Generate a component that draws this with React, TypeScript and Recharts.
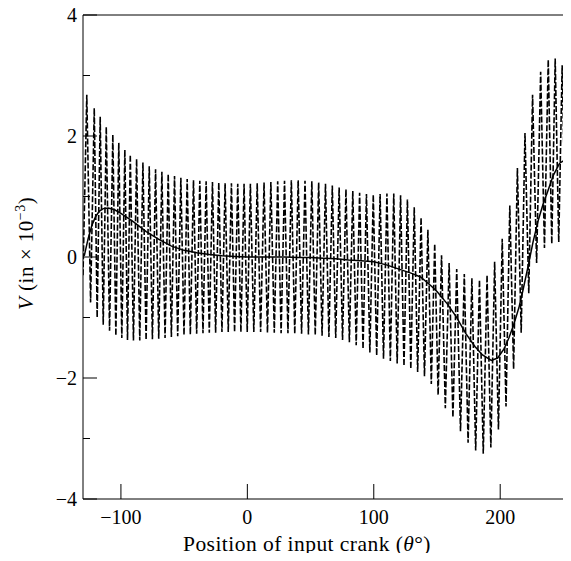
import { LineChart, Line, XAxis, YAxis, ReferenceLine } from 'recharts';

const xTicks = [-100, 0, 100, 200];
const yTicks = [-4, -3, -2, -1, 0, 1, 2, 3, 4];

// smooth (solid) response
const smoothAngle = [
    -129, -126, -123, -120, -117, -114, -110, -105, -100, -95,
    -90, -80, -70, -60, -50, -40, -30, -20, -10, 0,
    10, 20, 30, 40, 50, 60, 70, 80, 90, 100,
    110, 120, 130, 137, 145, 150, 158, 165, 173, 180,
    186, 193, 198, 203, 207, 211, 215, 218, 222, 226,
    230, 234, 237, 242, 247, 251, 256,
];
const smoothV = [
    0.02, 0.3, 0.52, 0.67, 0.76, 0.8, 0.81, 0.78, 0.72, 0.65,
    0.58, 0.42, 0.29, 0.18, 0.11, 0.07, 0.04, 0.02, 0.01, 0,
    0, 0, 0, -0.01, -0.01, -0.02, -0.03, -0.05, -0.06, -0.08,
    -0.13, -0.2, -0.27, -0.33, -0.47, -0.57, -0.77, -0.98, -1.27, -1.48,
    -1.62, -1.71, -1.67, -1.52, -1.33, -1.1, -0.82, -0.55, -0.16, 0.25,
    0.6, 0.88, 1.05, 1.35, 1.55, 1.6, 1.62,
];

// oscillating (dashed) response, troughs and crests in turn
const dashAngle = [
    -130, -127, -124, -121.1, -118.8, -116.4, -114, -111.6, -109, -106.4,
    -104, -101.7, -99.3, -96.9, -94.8, -92.6, -90.1, -87.6, -85.1, -82.6,
    -80.1, -77.6, -75.1, -72.6, -70.1, -67.6, -65.1, -62.6, -60.1, -57.6,
    -55.1, -52.6, -50.1, -47.6, -45.1, -42.6, -40.1, -37.6, -35.1, -32.6,
    -30.1, -27.6, -25.1, -22.6, -20.1, -17.6, -15.1, -12.6, -10.1, -7.6,
    -5.1, -2.6, -0.1, 2.4, 5.1, 7.8, 10.5, 13.2, 15.9, 18.6,
    21.3, 24, 26.7, 29.4, 32.1, 34.8, 37.5, 40.2, 42.9, 45.6,
    48.3, 51, 53.7, 56.4, 59.1, 61.8, 64.5, 67.2, 69.9, 72.6,
    75.3, 78, 80.7, 83.4, 86.1, 88.8, 91.5, 94.2, 96.9, 99.6,
    102.3, 105, 107.7, 110.4, 113.1, 115.8, 118.5, 121.2, 123.9, 126.6,
    129.3, 132, 134.7, 137.4, 140.1, 142.8, 145.5, 148.2, 150.9, 153.6,
    156.6, 159.6, 162.6, 165.6, 168.6, 171.6, 174.6, 177.6, 180.6, 183.6,
    186.6, 189.6, 192.6, 195.6, 198.6, 201.6, 204.6, 207.6, 210.6, 213.6,
    216.6, 219.6, 222.6, 225.6, 228.8, 232, 235, 238, 240.8, 243.5,
    246.3, 249, 251.8, 254.6, 256,
];
const dashV = [
    -0.3, 2.68, -0.75, 2.46, -1.0, 2.32, -1.12, 2.15, -1.22, 2.02,
    -1.3, 1.89, -1.34, 1.77, -1.37, 1.69, -1.38, 1.62, -1.38, 1.56,
    -1.37, 1.5, -1.36, 1.45, -1.35, 1.41, -1.34, 1.37, -1.32, 1.34,
    -1.31, 1.31, -1.29, 1.29, -1.28, 1.27, -1.27, 1.26, -1.26, 1.25,
    -1.25, 1.24, -1.25, 1.23, -1.24, 1.22, -1.24, 1.22, -1.24, 1.21,
    -1.24, 1.21, -1.24, 1.21, -1.24, 1.22, -1.24, 1.23, -1.25, 1.24,
    -1.25, 1.25, -1.26, 1.26, -1.26, 1.27, -1.27, 1.27, -1.27, 1.26,
    -1.28, 1.25, -1.29, 1.23, -1.3, 1.21, -1.32, 1.18, -1.34, 1.15,
    -1.37, 1.12, -1.41, 1.09, -1.46, 1.06, -1.52, 1.04, -1.58, 1.03,
    -1.63, 1.04, -1.68, 1.05, -1.72, 1.05, -1.76, 1.02, -1.8, 0.95,
    -1.85, 0.82, -1.9, 0.65, -1.97, 0.45, -2.1, 0.22, -2.28, 0.03,
    -2.5, -0.1, -2.65, -0.2, -2.88, -0.28, -3.07, -0.35, -3.2, -0.38,
    -3.25, -0.3, -3.15, -0.08, -2.85, 0.3, -2.47, 0.85, -1.85, 1.47,
    -1.25, 2.05, -0.6, 2.68, -0.1, 3.06, 0.15, 3.26, 0.22, 3.28,
    0.25, 3.17, 0.3, 3.04, 0.9,
];

const smoothData = smoothAngle.map((a, i) => ({ a, v: smoothV[i] }));
const dashData = dashAngle.map((a, i) => ({ a, v: dashV[i] }));

const FONT = '"Liberation Serif", "Times New Roman", serif';

const fmt = (n: number) => (n < 0 ? `\u2212${-n}` : `${n}`);

function XTick({ x, y, payload }: any) {
    return (
        <g>
            <line x1={x} y1={y} x2={x} y2={y - 15} stroke="#000" strokeWidth={1} />
            <text x={x} y={y + 25} textAnchor="middle" fontFamily={FONT} fontSize={20} fill="#000">
                {fmt(payload.value)}
            </text>
        </g>
    );
}

function YTick({ x, y, payload }: any) {
    const major = payload.value % 2 === 0;
    return (
        <g>
            <line x1={x} y1={y} x2={x + (major ? 14 : 7)} y2={y} stroke="#000" strokeWidth={1} />
            {major && (
                <text x={x - 6} y={y + 7} textAnchor="end" fontFamily={FONT} fontSize={20} fill="#000">
                    {fmt(payload.value)}
                </text>
            )}
        </g>
    );
}

const XTitle = () => (
    <text
        x={307}
        y={551}
        textAnchor="middle"
        fontFamily={FONT}
        fontSize={21.5}
        letterSpacing={0.45}
        fill="#000"
    >
        {'Position of input crank ('}
        <tspan fontStyle="italic">θ</tspan>
        {'°)'}
    </text>
);

// starts at the "V" and runs upward
const YTitle = () => (
    <text
        x={33}
        y={310}
        transform="rotate(-90 33 310)"
        textAnchor="start"
        fontFamily={FONT}
        fontSize={21}
        letterSpacing={0.5}
        fill="#000"
    >
        <tspan fontStyle="italic">V</tspan>
        {' (in \u00d7 10'}
        <tspan fontSize={14} dy={-8}>{'\u22123'}</tspan>
        <tspan dy={8}>)</tspan>
    </text>
);

export default function App() {
    return (
        <div style={{ marginTop: -8, marginLeft: -8, width: 571, height: 553 }}>
            <LineChart width={571} height={561} margin={{ top: 15, right: 0, bottom: 0, left: 0 }}>
                <XAxis
                    type="number"
                    dataKey="a"
                    domain={[-130, 256]}
                    allowDataOverflow
                    ticks={xTicks}
                    interval={0}
                    height={62}
                    tickSize={0}
                    tickMargin={0}
                    tickLine={false}
                    tick={XTick}
                    axisLine={{ stroke: '#000', strokeWidth: 1 }}
                    label={{ content: XTitle }}
                />
                <YAxis
                    type="number"
                    dataKey="v"
                    domain={[-4, 4]}
                    allowDataOverflow
                    ticks={yTicks}
                    interval={0}
                    width={83}
                    tickSize={0}
                    tickMargin={0}
                    tickLine={false}
                    tick={YTick}
                    axisLine={{ stroke: '#000', strokeWidth: 1 }}
                    label={{ content: YTitle }}
                />
                <ReferenceLine y={4} stroke="#000" strokeWidth={1} />
                <Line
                    data={dashData}
                    dataKey="v"
                    type="linear"
                    stroke="#000"
                    strokeWidth={1.6}
                    strokeDasharray="6 2"
                    dot={false}
                    activeDot={false}
                    isAnimationActive={false}
                />
                <Line
                    data={smoothData}
                    dataKey="v"
                    type="linear"
                    stroke="#000"
                    strokeWidth={1.5}
                    dot={false}
                    activeDot={false}
                    isAnimationActive={false}
                />
            </LineChart>
        </div>
    );
}
